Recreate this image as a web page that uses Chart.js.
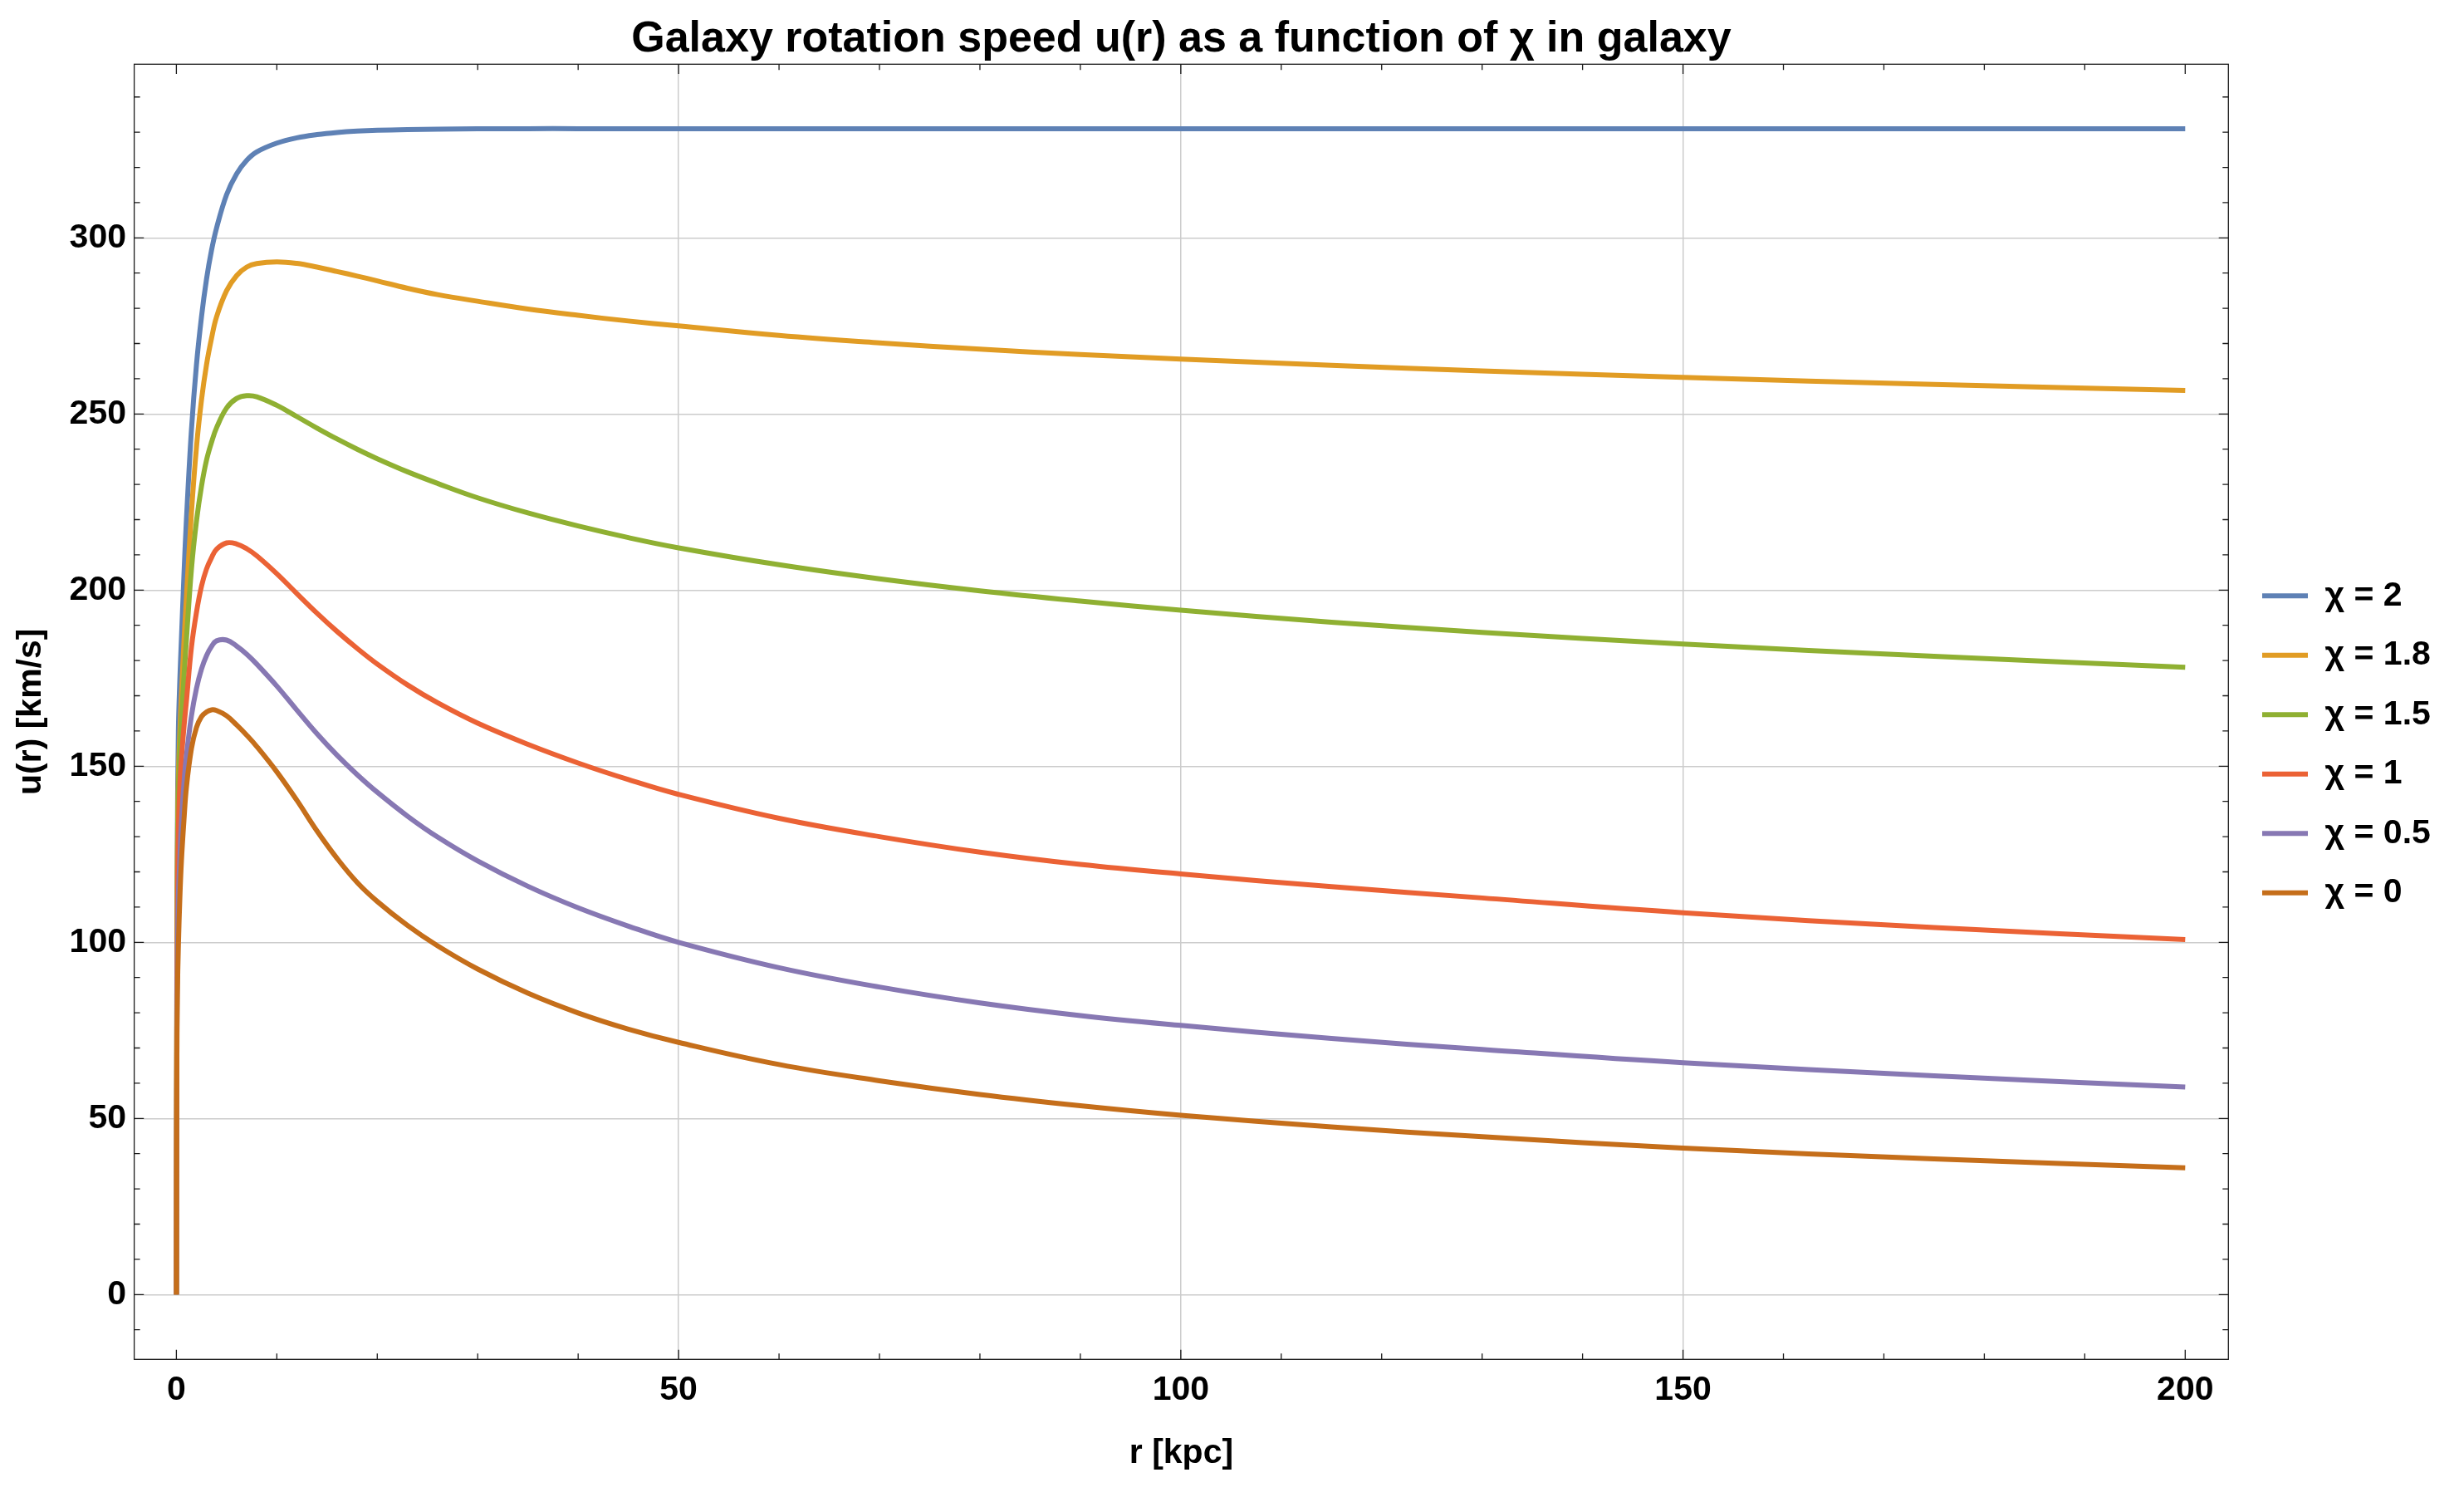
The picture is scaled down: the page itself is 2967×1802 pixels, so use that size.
<!DOCTYPE html>
<html>
<head>
<meta charset="utf-8">
<title>Galaxy rotation speed</title>
<script src="https://cdn.jsdelivr.net/npm/chart.js@4.4.1/dist/chart.umd.min.js"></script>
<style>
    html, body { margin: 0; padding: 0; background: #ffffff; }
    canvas { display: block; }
</style>
</head>
<body>
<canvas id="rotationChart" width="2967" height="1802"></canvas>
<script>
// Radius samples [kpc]
const radius = [0, 0.05, 0.1, 0.2, 0.35, 0.5, 0.75, 1, 1.5, 2, 2.5, 3, 3.5, 4, 5, 6, 7, 8, 10, 12, 14, 16, 18, 20, 23, 26, 30, 35, 40, 45, 50, 60, 70, 80, 90, 100, 115, 130, 150, 175, 200];

// Rotation speed u(r) [km/s], one array per chi
const speedChi2 = [0, 90, 130, 160, 175, 186, 204, 220, 245.5, 264, 277.6, 288.3, 296.5, 302.8, 312.3, 318.2, 322, 324.4, 326.9, 328.4, 329.3, 329.9, 330.3, 330.55, 330.75, 330.85, 330.95, 331, 331, 331, 331, 331, 331, 331, 331, 331, 331, 331, 331, 331, 331];
const speedChi18 = [0, 95, 125, 147, 160, 170, 185, 198, 222, 240.6, 254, 264, 271.5, 277.6, 285, 289.3, 291.7, 292.7, 293.2, 292.75, 291.7, 290.45, 289.15, 287.8, 285.7, 283.9, 282, 279.8, 278, 276.4, 275, 272.3, 270.2, 268.4, 266.9, 265.6, 263.8, 262.2, 260.4, 258.4, 256.7];
const speedChi15 = [0, 85, 118, 143, 155, 163, 175, 186, 206, 219.6, 229.5, 236.9, 242, 246.1, 251.7, 254.4, 255.2, 254.9, 252.45, 249.25, 246, 242.9, 240, 237.3, 233.6, 230.3, 226.2, 221.9, 218.2, 214.9, 212, 207.2, 203.2, 199.8, 196.9, 194.3, 190.9, 188, 184.7, 181.2, 178.1];
const speedChi1 = [0, 80, 108, 132, 145, 152, 161, 168.5, 183.8, 193.7, 201.1, 206, 209.2, 211.6, 213.4, 213.1, 211.75, 209.75, 204.65, 199, 193.45, 188.25, 183.45, 179, 173.1, 168, 162.2, 156.2, 150.9, 146.2, 142, 135.2, 130, 125.6, 122.1, 119.4, 115.8, 112.6, 108.4, 104.2, 100.8];
const speedChi05 = [0, 72, 95, 113, 124, 134, 145, 153, 164.3, 172.1, 177.6, 181.4, 184, 185.6, 185.8, 184.1, 181.8, 179, 172.75, 165.9, 159.2, 153.1, 147.6, 142.6, 135.85, 129.9, 123.1, 115.9, 109.8, 104.6, 100, 92.8, 87.3, 82.8, 79.2, 76.4, 72.7, 69.6, 65.8, 62.1, 58.9];
const speedChi0 = [0, 67, 85, 99, 113, 123, 134.5, 144, 155, 161, 164.1, 165.4, 166, 165.8, 164.3, 161.7, 158.8, 155.6, 148.4, 140.3, 131.6, 123.8, 117, 111.6, 104.8, 99, 92.4, 85.55, 79.95, 75.35, 71.6, 65.3, 60.7, 56.8, 53.6, 50.9, 47.6, 44.8, 41.6, 38.5, 36];

const seriesLabels = ['χ = 2', 'χ = 1.8', 'χ = 1.5', 'χ = 1', 'χ = 0.5', 'χ = 0'];
const seriesValues = [speedChi2, speedChi18, speedChi15, speedChi1, speedChi05, speedChi0];
const seriesColors = ['#5E81B5', '#E19C24', '#8FB032', '#EB6235', '#8778B3', '#C56E1A'];

// Axis ticks
const xMajorStep = 50;
const xMinorStep = 10;
const yMajorStep = 50;
const yMinorStep = 10;
const xGridValues = [50, 100, 150];

const FONT = '"Liberation Sans", Arial, sans-serif';
const legendFontSize = 41;

// Measure the widest legend label so the legend lands where the reference has it
function widestLabel() {
    const c = document.createElement('canvas').getContext('2d');
    c.font = `bold ${legendFontSize}px ${FONT}`;
    return Math.max(...seriesLabels.map(t => c.measureText(t).width));
}
const rightPad = 157.5 - widestLabel();

// Frame with inward ticks on all four sides
const frameTicks = {
    id: 'frameTicks',
    afterDraw(chart) {
        const { ctx, chartArea: a, scales: { x, y } } = chart;
        ctx.save();
        ctx.strokeStyle = '#1a1a1a';
        ctx.lineWidth = 1.3;
        ctx.strokeRect(a.left, a.top, a.right - a.left, a.bottom - a.top);
        ctx.beginPath();
        for (let v = Math.ceil(x.min / xMinorStep) * xMinorStep; v <= x.max; v += xMinorStep) {
            const px = x.getPixelForValue(v);
            const len = v % xMajorStep === 0 ? 11.6 : 7;
            ctx.moveTo(px, a.bottom); ctx.lineTo(px, a.bottom - len);
            ctx.moveTo(px, a.top); ctx.lineTo(px, a.top + len);
        }
        for (let v = Math.ceil(y.min / yMinorStep) * yMinorStep; v <= y.max; v += yMinorStep) {
            const py = y.getPixelForValue(v);
            const len = v % yMajorStep === 0 ? 11.6 : 7;
            ctx.moveTo(a.left, py); ctx.lineTo(a.left + len, py);
            ctx.moveTo(a.right, py); ctx.lineTo(a.right - len, py);
        }
        ctx.stroke();
        ctx.restore();
    }
};

const datasets = seriesValues.map((values, i) => ({
    label: seriesLabels[i],
    data: radius.map((r, j) => ({ x: r, y: values[j] })),
    borderColor: seriesColors[i],
    backgroundColor: seriesColors[i],
    borderWidth: 6,
    pointRadius: 0,
    fill: false,
    tension: 0.4,
    order: seriesValues.length - 1 - i // last curve on top, as in the reference
}));

const ctx = document.getElementById('rotationChart').getContext('2d');
new Chart(ctx, {
    type: 'line',
    data: { datasets: datasets },
    options: {
        responsive: false,
        animation: false,
        devicePixelRatio: 1,
        layout: { padding: { left: 0, right: rightPad, top: 0, bottom: 10 } },
        plugins: {
            title: {
                display: true,
                fullSize: false,
                text: 'Galaxy rotation speed u(r) as a function of χ in galaxy',
                color: '#000000',
                font: { family: FONT, size: 52, weight: 'bold', lineHeight: 1 },
                padding: { top: 22, bottom: 3.3 }
            },
            legend: {
                position: 'right',
                labels: {
                    color: '#000000',
                    font: { family: FONT, size: legendFontSize, weight: 'bold' },
                    boxWidth: 55,
                    boxHeight: 6,
                    padding: 30.5,
                    sort: (a, b) => a.datasetIndex - b.datasetIndex,
                    generateLabels(chart) {
                        const items = Chart.defaults.plugins.legend.labels.generateLabels(chart);
                        items.forEach(item => {
                            item.fillStyle = item.strokeStyle;
                            item.lineWidth = 0;
                        });
                        return items;
                    }
                }
            },
            tooltip: { enabled: false }
        },
        scales: {
            x: {
                type: 'linear',
                min: -4.2,
                max: 204.3,
                afterFit(scale) { scale.height = 155.7; },
                border: { display: false },
                grid: {
                    drawTicks: false,
                    lineWidth: 1.5,
                    color: c => xGridValues.includes(c.tick && c.tick.value) ? '#cccccc' : 'rgba(0,0,0,0)'
                },
                ticks: {
                    stepSize: xMajorStep,
                    includeBounds: false,
                    padding: 13,
                    maxRotation: 0,
                    color: '#000000',
                    font: { family: FONT, size: 41, weight: 'bold' }
                },
                title: {
                    display: true,
                    text: 'r [kpc]',
                    color: '#000000',
                    font: { family: FONT, size: 41, weight: 'bold' },
                    padding: { top: 0, bottom: 17.6 }
                }
            },
            y: {
                type: 'linear',
                min: -18.4,
                max: 349.3,
                afterFit(scale) { scale.width = 161.6; },
                border: { display: false },
                grid: {
                    drawTicks: false,
                    lineWidth: 1.5,
                    color: '#cccccc'
                },
                ticks: {
                    stepSize: yMajorStep,
                    includeBounds: false,
                    padding: 9.6,
                    color: '#000000',
                    font: { family: FONT, size: 41, weight: 'bold' }
                },
                title: {
                    display: true,
                    text: 'u(r) [km/s]',
                    color: '#000000',
                    font: { family: FONT, size: 41, weight: 'bold' },
                    padding: { top: 12.7, bottom: 0 }
                }
            },
            // empty right-hand axis, only keeps a gap between frame and legend
            y2: {
                type: 'linear',
                position: 'right',
                afterFit(scale) { scale.width = 10.2; },
                border: { display: false },
                grid: { display: false, drawTicks: false },
                ticks: { display: false }
            }
        }
    },
    plugins: [frameTicks]
});
</script>
</body>
</html>
